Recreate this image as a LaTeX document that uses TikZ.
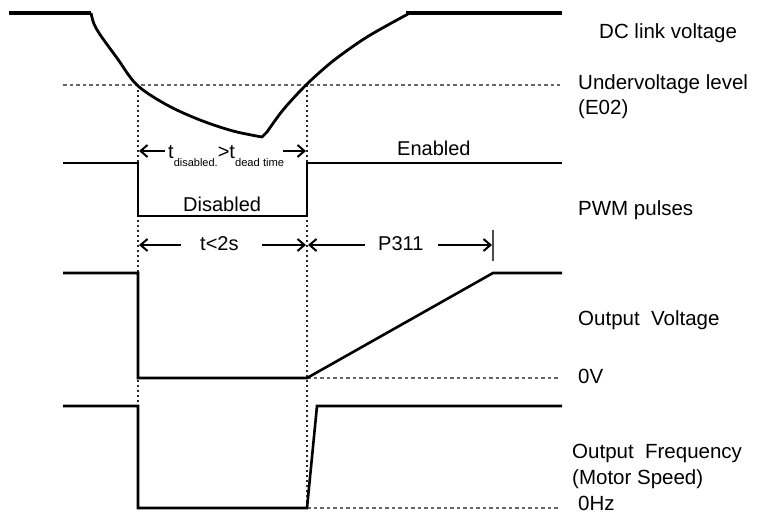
\documentclass[tikz,border=0pt]{standalone}
\usepackage{fontspec}
\setmainfont{Liberation Sans}
\usetikzlibrary{arrows.meta}
\begin{document}
\begin{tikzpicture}[x=1bp,y=-1bp,
  wave/.style={line width=2.6bp, line join=miter},
  flat/.style={line width=4.5bp},
  vdot/.style={line width=2bp, dash pattern=on 2bp off 3bp, black!85},
  hdash/.style={line width=1.6bp, dash pattern=on 3.5bp off 3bp, black!60},
  dimarrow/.style={line width=2bp, -{Straight Barb[length=7bp,width=12bp,line width=2bp]}},
  lbl/.style={anchor=base west, inner sep=0pt, font=\fontsize{20.5bp}{24bp}\selectfont},
  ann/.style={anchor=base west, inner sep=0pt, font=\fontsize{20bp}{24bp}\selectfont},
]
\useasboundingbox (0,0) rectangle (767,515);

% reference lines
\coordinate (uvL) at (63,85);   \coordinate (uvR) at (560,85);
\coordinate (vLt) at (138,85);  \coordinate (vLb) at (138,406);
\coordinate (vRt) at (307,85);  \coordinate (vRb) at (307,508);
\coordinate (zvL) at (307,378); \coordinate (zvR) at (558,378);
\coordinate (zfL) at (307,508); \coordinate (zfR) at (558,508);
\draw[hdash] (uvL) -- (uvR);
\draw[hdash] (zvL) -- (zvR);
\draw[hdash] (zfL) -- (zfR);
\draw[vdot] (vLt) -- (vLb);
\draw[vdot] (vRt) -- (vRb);

% DC link voltage
\draw[flat] (9,13) -- (91,13);
\draw[flat] (406,13) -- (562,13);
\draw[line width=2.8bp, line join=round]
  plot[smooth, tension=0.55] coordinates {(91,13) (94,24) (101,36) (117,58) (137,85) (167,105) (200,120) (233,131) (262,137)}
  -- (267,132)
  -- plot[smooth, tension=0.5] coordinates {(267,132) (283,110) (306,85) (333,61) (367,37) (408,14)};

% PWM pulses
\draw[wave] (63,163) -- (138,163) -- (138,216) -- (307,216) -- (307,163) -- (562,163);
% Output voltage
\draw[wave] (63,273) -- (138,273) -- (138,378) -- (307,378) -- (493,273) -- (562,273);
% Output frequency
\draw[wave] (63,406) -- (138,406) -- (138,508) -- (307,508) -- (317,406) -- (562,406);

% time annotations
\coordinate (r1a) at (165,151); \coordinate (r1ae) at (139,151);
\coordinate (r1b) at (283,151); \coordinate (r1be) at (306,151);
\draw[dimarrow] (r1a) -- (r1ae);
\draw[dimarrow] (r1b) -- (r1be);
\node[ann] (tdis) at (168,159) {t\raisebox{-7.5bp}{\fontsize{11bp}{12bp}\selectfont disabled.}>t\raisebox{-7.5bp}{\fontsize{11.2bp}{12bp}\selectfont dead time}};

\coordinate (r2a) at (181,245); \coordinate (r2ae) at (139,245);
\coordinate (r2b) at (262,245); \coordinate (r2be) at (306,245);
\coordinate (r2c) at (365,245); \coordinate (r2ce) at (308,245);
\coordinate (r2d) at (438,245); \coordinate (r2de) at (492,245);
\coordinate (barT) at (493,230); \coordinate (barB) at (493,261);
\draw[dimarrow] (r2a) -- (r2ae);
\draw[dimarrow] (r2b) -- (r2be);
\draw[dimarrow] (r2c) -- (r2ce);
\draw[dimarrow] (r2d) -- (r2de);
\draw[line width=2bp, black!70] (barT) -- (barB);
\node[ann] (tlt) at (200,251) {t<2s};
\node[ann] (p311) at (378,251) {P311};
\node[ann] (ena) at (397,156) {Enabled};
\node[ann] (dis) at (183,212) {Disabled};

% right labels
\node[lbl] (ldc) at (599,39) {DC link voltage};
\node[lbl] (luv) at (578,90) {Undervoltage level};
\node[lbl] (le02) at (578,115) {(E02)};
\node[lbl] (lpwm) at (578,216) {PWM pulses};
\node[lbl] (lov) at (578,325) {Output\ \ Voltage};
\node[lbl] (l0v) at (578,383) {0V};
\node[lbl] (lof) at (572,458) {Output\ \ Frequency};
\node[lbl] (lms) at (572,484) {(Motor Speed)};
\node[lbl] (l0hz) at (578,510) {0Hz};
\end{tikzpicture}
\end{document}
